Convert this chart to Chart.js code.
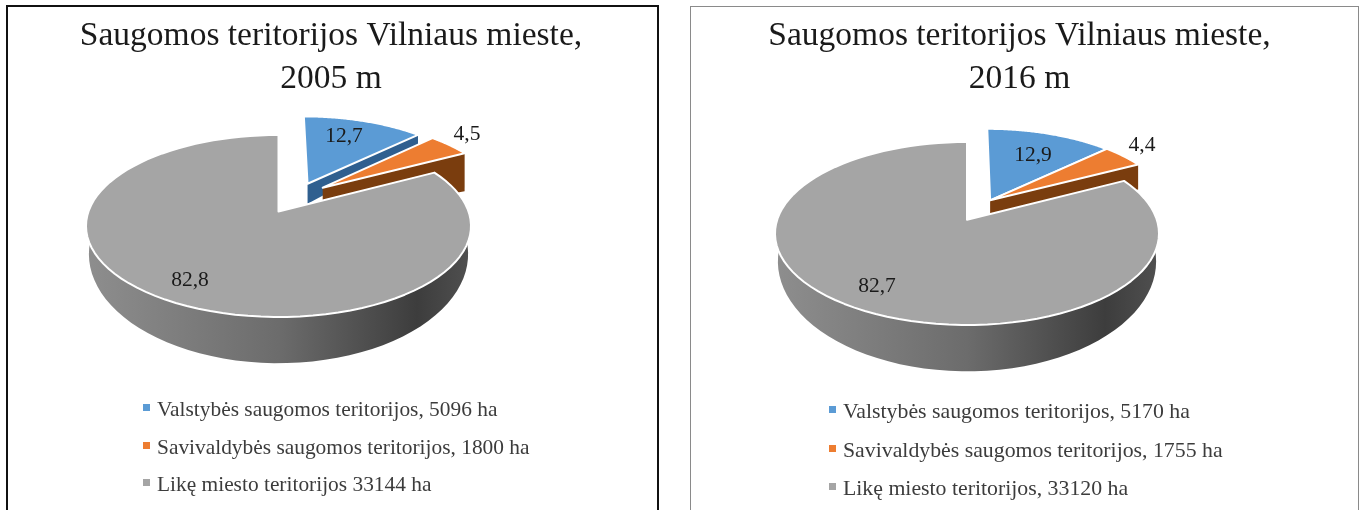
<!DOCTYPE html>
<html>
<head>
<meta charset="utf-8">
<script src="https://cdn.jsdelivr.net/npm/chart.js@4"></script>
<style>
  html, body { margin: 0; background: #fff; overflow: hidden; }
  canvas { position: absolute; top: 0; filter: blur(0.35px); }
  #chart2005 { left: 0; }
  #chart2016 { left: 680px; }
  .frame { position: absolute; border-style: solid; border-bottom: none; box-sizing: border-box; height: 520px; }
  #frame2005 { left: 6px; top: 5px; width: 653px; border-width: 2px; border-color: #111; }
  #frame2016 { left: 690px; top: 6px; width: 669px; border-width: 1px; border-color: #8a8a8a; }
</style>
</head>
<body>
<canvas id="chart2005" width="662" height="510"></canvas>
<canvas id="chart2016" width="679" height="510"></canvas>
<div class="frame" id="frame2005"></div>
<div class="frame" id="frame2016"></div>
<script>
const title2005 = ['Saugomos teritorijos Vilniaus mieste,', '2005 m'];
const title2016 = ['Saugomos teritorijos Vilniaus mieste,', '2016 m'];
const labels2005 = ['Valstybės saugomos teritorijos, 5096 ha', 'Savivaldybės saugomos teritorijos, 1800 ha', 'Likę miesto teritorijos 33144 ha'];
const labels2016 = ['Valstybės saugomos teritorijos, 5170 ha', 'Savivaldybės saugomos teritorijos, 1755 ha', 'Likę miesto teritorijos, 33120 ha'];
const values2005 = [12.7, 4.5, 82.8];
const values2016 = [12.9, 4.4, 82.7];

const topColors = ['#5b9bd5', '#ed7d31', '#a5a5a5'];
const sideColors = ['#2f5f8f', '#7a3d0e', null];
const serif = "'Liberation Serif', 'Times New Roman', serif";

// the pie is a tilted disc: a circle pushed through a perspective map onto an ellipse
const pie3d = {
  id: 'pie3d',
  beforeDatasetsDraw(chart, args, o) {
    const ctx = chart.ctx;
    const arcs = chart.getDatasetMeta(0).data;
    const root = Math.sqrt(1 - o.k * o.k);

    const project = (x, y) => {
      const d = 1 + o.k * y;
      return [o.cx + o.rx * x * root / d, o.cy - o.ry * (y + o.k) / d];
    };
    const point = (i, a, r) => {
      const phi = a + Math.PI / 2; // chart.js angles start at -90deg
      return project(o.shift[i][0] + r * Math.sin(phi), o.shift[i][1] + r * Math.cos(phi));
    };
    const rimOf = (i) => {
      const pts = [];
      const { startAngle, endAngle } = arcs[i];
      for (let s = 0; s <= 90; s++) {
        pts.push(point(i, startAngle + (endAngle - startAngle) * s / 90, o.radius[i]));
      }
      return pts;
    };
    const trace = (pts) => {
      ctx.beginPath();
      pts.forEach((p, n) => (n ? ctx.lineTo(p[0], p[1]) : ctx.moveTo(p[0], p[1])));
      ctx.closePath();
    };

    ctx.save();
    ctx.lineJoin = 'round';
    arcs.forEach((arc, i) => {
      const rim = rimOf(i);
      const apex = point(i, arc.startAngle, 0);
      if (sideColors[i]) {
        const end = rim[rim.length - 1];
        const [d0, d1] = o.side[i];
        if (d0 || d1) {
          trace([apex, end, [end[0], end[1] + d1], [apex[0], apex[1] + d0]]);
          ctx.fillStyle = sideColors[i];
          ctx.fill();
        }
      } else {
        // round wall of the big slice
        const low = rim.map((p) => [
          o.cx + (p[0] - o.cx) * 0.985,
          p[1] + o.wall[0] + o.wall[1] * (p[1] - o.cy)
        ]);
        trace(rim.concat(low.reverse()));
        const g = ctx.createLinearGradient(o.cx - o.rx, 0, o.cx + o.rx, 0);
        g.addColorStop(0, '#8e8e8e');
        g.addColorStop(0.5, '#6c6c6c');
        g.addColorStop(0.86, '#3d3d3d');
        g.addColorStop(1, '#505050');
        ctx.fillStyle = g;
        ctx.fill();
      }
      trace([apex].concat(rim));
      ctx.fillStyle = topColors[i];
      ctx.fill();
      ctx.strokeStyle = '#fff';
      ctx.lineWidth = 2;
      ctx.stroke();
    });
    ctx.restore();
    return false; // the flat arcs are replaced by the drawing above
  },
  afterDraw(chart, args, o) {
    const ctx = chart.ctx;
    ctx.save();
    ctx.textBaseline = 'middle';
    ctx.textAlign = 'center';
    ctx.font = '21.5px ' + serif;
    ctx.fillStyle = '#1a1a1a';
    chart.data.datasets[0].data.forEach((v, i) => {
      ctx.fillText(String(v).replace('.', ','), o.valuePos[i][0], o.valuePos[i][1]);
    });
    ctx.textAlign = 'left';
    ctx.textBaseline = 'alphabetic';
    ctx.font = o.legendSize + 'px ' + serif;
    chart.data.labels.forEach((label, i) => {
      const y = o.legendY[i];
      ctx.fillStyle = topColors[i];
      ctx.fillRect(o.legendX, y - 12, 7, 7);
      ctx.fillStyle = '#3c3c3c';
      ctx.fillText(label, o.legendX + 14, y);
    });
    ctx.restore();
  }
};

function makeChart(id, title, labels, values, geo) {
  return new Chart(document.getElementById(id), {
    type: 'pie',
    data: { labels: labels, datasets: [{ data: values, backgroundColor: topColors, borderWidth: 0 }] },
    plugins: [pie3d],
    options: {
      responsive: false,
      animation: false,
      layout: { padding: 0 },
      plugins: {
        legend: { display: false },
        tooltip: { enabled: false },
        title: {
          display: true,
          text: title,
          color: '#1a1a1a',
          font: { family: serif, size: 33.5, weight: 'normal', lineHeight: 1.28 },
          padding: { top: 15, bottom: 8 }
        },
        pie3d: geo
      }
    }
  });
}

makeChart('chart2005', title2005, labels2005, values2005, {
  cx: 278.5, cy: 226, rx: 192.5, ry: 91, k: 0.16,
  shift: [[0.161, 0.329], [0.243, 0.28], [0, 0]],
  radius: [0.965, 0.965, 1],
  side: [[20, 10], [30, 38], [0, 0]],
  wall: [28, 0.2],
  valuePos: [[344, 136], [467, 134], [190, 280]],
  legendX: 143,
  legendSize: 21.4,
  legendY: [416, 454, 491]
});

makeChart('chart2016', title2016, labels2016, values2016, {
  cx: 287, cy: 233.5, rx: 192, ry: 91.5, k: 0.15,
  shift: [[0.126, 0.225], [0.126, 0.225], [0, 0]],
  radius: [0.975, 0.98, 1],
  side: [[0, 0], [20, 25], [0, 0]],
  wall: [28, 0.2],
  valuePos: [[353, 155], [462, 145], [197, 286]],
  legendX: 149,
  legendSize: 21.8,
  legendY: [418, 457, 495]
});
</script>
</body>
</html>
